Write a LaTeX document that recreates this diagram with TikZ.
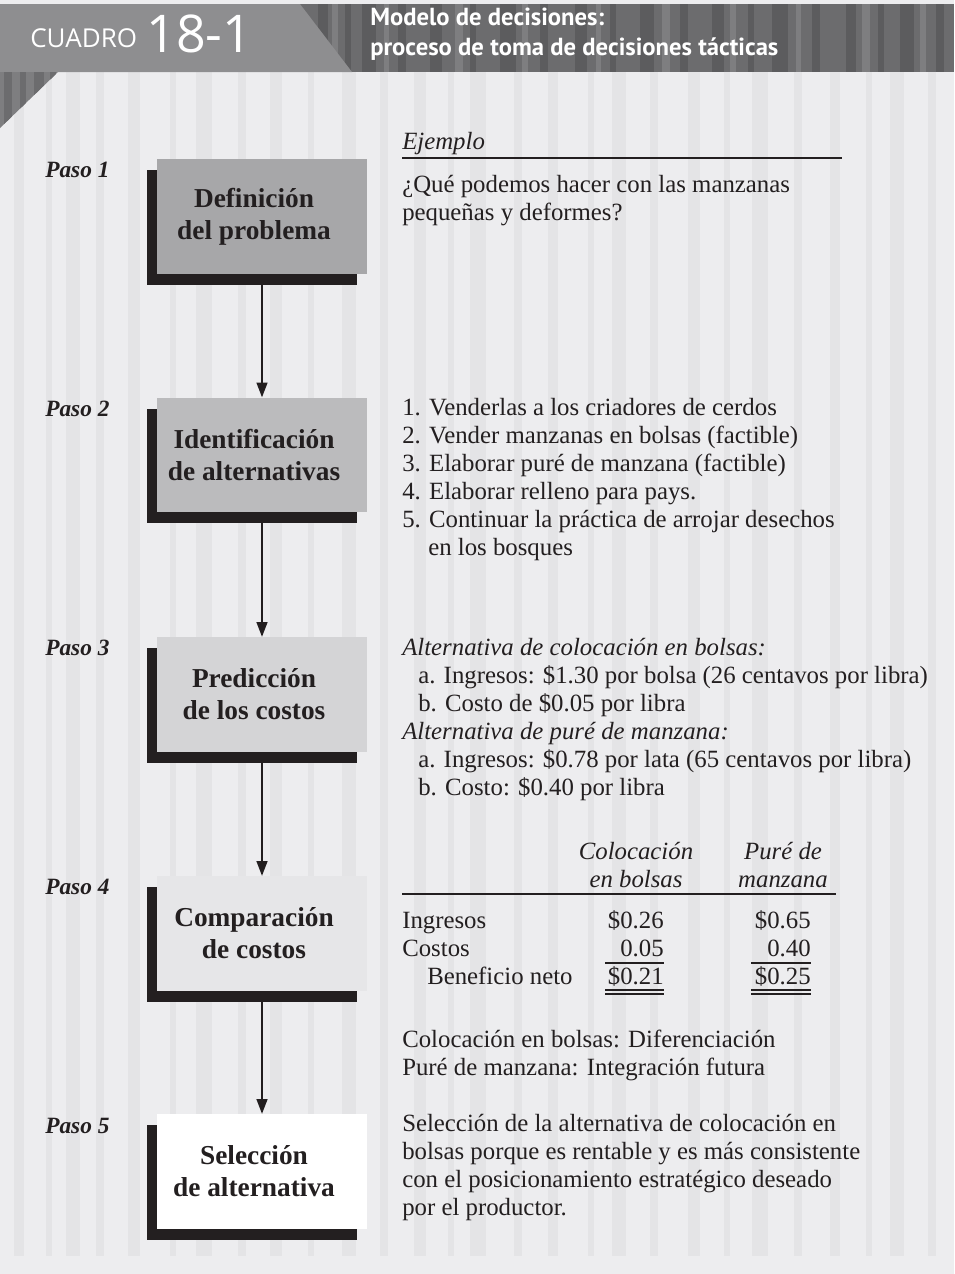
\documentclass[tikz,border=0pt]{standalone}
\usepackage{fontspec}
\setmainfont{Liberation Serif}
\newfontfamily\hdfont{PT Sans}
\newfontfamily\cuadrofont{Open Sans}
\usetikzlibrary{arrows.meta,shadows}
\definecolor{bgc}{HTML}{EDEDEF}
\definecolor{stripec}{HTML}{E4E4E6}
\definecolor{bandc}{HTML}{6C6C6E}
\definecolor{banddark}{HTML}{5C5C5E}
\definecolor{bandlight}{HTML}{7E7E80}
\definecolor{tabc}{HTML}{8E8E90}
\definecolor{txt}{HTML}{231F20}
\definecolor{cA}{HTML}{A7A7A9}
\definecolor{cB}{HTML}{BBBBBD}
\definecolor{cC}{HTML}{D4D4D6}
\definecolor{cD}{HTML}{E6E6E8}
\tikzset{
  body/.style={anchor=base west, inner sep=0pt, text=txt, font=\fontsize{18.6}{21}\selectfont},
  bodyit/.style={body, font=\fontsize{18.6}{21}\itshape\selectfont},
  num/.style={anchor=base east, inner sep=0pt, text=txt, font=\fontsize{18.6}{21}\selectfont},
  colhead/.style={anchor=center, inner sep=0pt, text=txt, align=center, font=\fontsize{18.6}{21}\itshape\selectfont},
  paso/.style={anchor=base west, inner sep=0pt, text=txt, font=\fontsize{17.5}{20}\bfseries\itshape\selectfont},
  stepbox/.style={draw=none, minimum width=157.5pt, minimum height=86pt, inner sep=0pt,
    general shadow={fill=txt, shadow xshift=-7.5pt, shadow yshift=-8.25pt}},
  boxtext/.style={xshift=-6pt, align=center, inner sep=0pt, text=txt, font=\fontsize{20.5}{24}\bfseries\selectfont},
  conn/.style={draw=txt, line width=1.5pt, -{Triangle[length=11pt,width=8pt]}},
  rule/.style={draw=txt, line width=0.9pt},
  hdtext/.style={anchor=base west, inner sep=0pt, text=white, font=\hdfont\fontsize{18.5}{18.5}\bfseries\selectfont},
}
\begin{document}
\begin{tikzpicture}[x=0.75pt,y=-0.75pt]
\useasboundingbox (0,0) rectangle (954,1274);
% background
\fill[bgc] (0,0) rectangle (954,1274);
\foreach \x/\w in {14/10,46/6,66/14,96/8,128/12,170/6,196/16,238/8,270/12,308/6,342/14,380/8,414/12,448/6,470/16,514/8,548/10,588/6,612/14,650/8,688/12,724/6,752/16,794/8,830/10,866/6,890/14,928/8}
  \fill[stripec] (\x,72) rectangle (\x+\w,1256);
% header band
\fill[bandc] (0,4) rectangle (954,72);
\foreach \x/\w in {318/10,345/6,362/14,398/8,430/12,470/6,500/16,540/8,575/12,610/6,640/14,680/8,712/12,748/6,772/16,812/8,846/10,878/6,900/14,936/8}
  \fill[banddark] (\x,4) rectangle (\x+\w,72);
\foreach \x/\w in {332/6,384/5,455/8,522/6,596/5,662/8,730/6,796/5,862/8,920/6}
  \fill[bandlight] (\x,4) rectangle (\x+\w,72);
\fill[tabc] (0,4) -- (300,4) -- (352,72) -- (0,72) -- cycle;
\begin{scope}
  \clip (0,72) -- (58,72) -- (0,128) -- cycle;
  \fill[bandlight] (0,72) rectangle (60,130);
  \foreach \x/\w in {4/8,20/6,34/10,50/6}
    \fill[bandc] (\x,72) rectangle (\x+\w,130);
\end{scope}
% title
\node[anchor=base west, inner sep=0pt, text=white, font=\cuadrofont\fontsize{19.5}{19.5}\selectfont] (cuadro) at (30,47) {CUADRO};
\node[anchor=base west, inner sep=0pt, text=white, font=\cuadrofont\fontsize{39}{39}\selectfont] (num) at (146,52) {18-1};
\node[hdtext] (t1) at (370,26) {Modelo de decisiones:};
\node[hdtext] (t2) at (370,55) {proceso de toma de decisiones tácticas};
% step labels
\node[paso] (p1) at (45,177) {Paso 1};
\node[paso] (p2) at (45,416) {Paso 2};
\node[paso] (p3) at (45,655) {Paso 3};
\node[paso] (p4) at (45,894) {Paso 4};
\node[paso] (p5) at (45,1133) {Paso 5};
% boxes
\node[stepbox, fill=cA, label={[boxtext]center:Definición\\del problema}] (b1) at (262,216.5) {};
\node[stepbox, fill=cB, label={[boxtext]center:Identificación\\de alternativas}] (b2) at (262,455) {};
\node[stepbox, fill=cC, label={[boxtext]center:Predicción\\de los costos}] (b3) at (262,694.5) {};
\node[stepbox, fill=cD, label={[boxtext]center:Comparación\\de costos}] (b4) at (262,933.5) {};
\node[stepbox, fill=white, label={[boxtext]center:Selección\\de alternativa}] (b5) at (262,1171.5) {};
\draw[conn] (b1.south) -- (b2.north);
\draw[conn] (b2.south) -- (b3.north);
\draw[conn] (b3.south) -- (b4.north);
\draw[conn] (b4.south) -- (b5.north);
% step 1 text
\node[bodyit] (ej) at (402,149) {Ejemplo};
\draw[rule] (402,158) -- (842,158);
\node[body] (q1) at (402,192) {¿Qué podemos hacer con las manzanas};
\node[body] (q2) at (402,220) {pequeñas y deformes?};
% step 2 text
\node[body] (l1) at (402,415) {1. Venderlas a los criadores de cerdos};
\node[body] (l2) at (402,443) {2. Vender manzanas en bolsas (factible)};
\node[body] (l3) at (402,471) {3. Elaborar puré de manzana (factible)};
\node[body] (l4) at (402,499) {4. Elaborar relleno para pays.};
\node[body] (l5) at (402,527) {5. Continuar la práctica de arrojar desechos};
\node[body] (l6) at (428,555) {en los bosques};
% step 3 text
\node[bodyit] (a0) at (402,655) {Alternativa de colocación en bolsas:};
\node[body] (a1) at (418,683) {a. Ingresos: \$1.30 por bolsa (26 centavos por libra)};
\node[body] (a2) at (418,711) {b. Costo de \$0.05 por libra};
\node[bodyit] (c0) at (402,739) {Alternativa de puré de manzana:};
\node[body] (c1) at (418,767) {a. Ingresos: \$0.78 por lata (65 centavos por libra)};
\node[body] (c2) at (418,795) {b. Costo: \$0.40 por libra};
% step 4 table
\node[colhead] (h1) at (636,865) {Colocación\\en bolsas};
\node[colhead] (h2) at (783,865) {Puré de\\manzana};
\draw[rule] (402,894) -- (836,894);
\node[body] (r1) at (402,928) {Ingresos};
\node[body] (r2) at (402,956) {Costos};
\node[body] (r3) at (427,984) {Beneficio neto};
\node[num] (v11) at (664,928) {\$0.26};
\node[num] (v12) at (664,956) {0.05};
\node[num] (v13) at (664,984) {\$0.21};
\node[num] (v21) at (811,928) {\$0.65};
\node[num] (v22) at (811,956) {0.40};
\node[num] (v23) at (811,984) {\$0.25};
\draw[rule] (605,963) -- (664,963);
\draw[rule] (751,963) -- (811,963);
\draw[rule] (605,990) -- (664,990);
\draw[rule] (605,994) -- (664,994);
\draw[rule] (751,990) -- (811,990);
\draw[rule] (751,994) -- (811,994);
% strategy text
\node[body] (s1) at (402,1047) {Colocación en bolsas: Diferenciación};
\node[body] (s2) at (402,1075) {Puré de manzana: Integración futura};
% step 5 text
\node[body] (f1) at (402,1131) {Selección de la alternativa de colocación en};
\node[body] (f2) at (402,1159) {bolsas porque es rentable y es más consistente};
\node[body] (f3) at (402,1187) {con el posicionamiento estratégico deseado};
\node[body] (f4) at (402,1215) {por el productor.};
\end{tikzpicture}
\end{document}
